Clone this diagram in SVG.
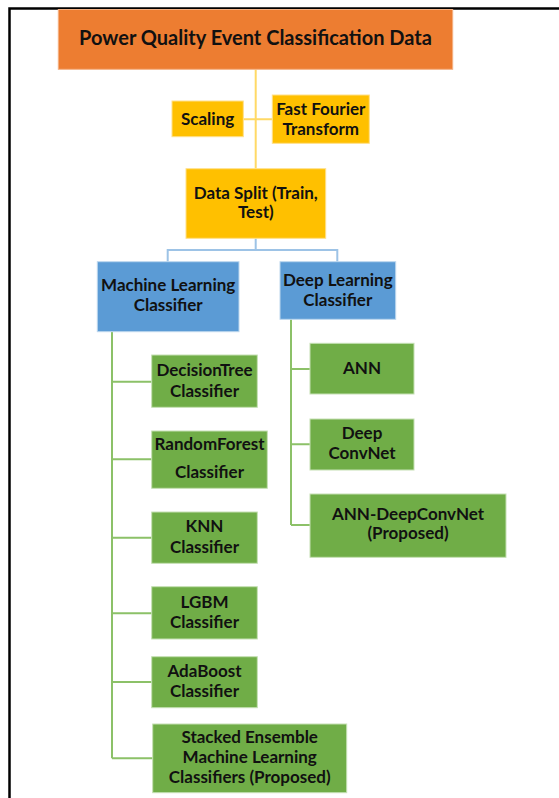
<svg xmlns="http://www.w3.org/2000/svg" width="559" height="798" viewBox="0 0 559 798">
<style>
text{font-family:Lato,"Open Sans","Liberation Sans",sans-serif;font-weight:bold;font-size:17px;fill:#111;text-anchor:middle}
.t{font-size:20px}
.o{fill:#ED7D31;stroke:#F4B183;stroke-width:1}
.y{fill:#FFC000;stroke:#FFE08A;stroke-width:1}
.b{fill:#5B9BD5;stroke:#BDD7EE;stroke-width:1}
.g{fill:#70AD47;stroke:#C5E0B4;stroke-width:1}
.cy{stroke:#FFD966;stroke-width:2;fill:none}
.cb{stroke:#9DC3E6;stroke-width:2;fill:none}
.cg{stroke:#8CC168;stroke-width:2;fill:none}
</style>
<rect x="0" y="0" width="559" height="798" fill="#fff"/>
<rect x="9.5" y="8.5" width="600" height="850" fill="none" stroke="#000" stroke-width="2.5"/>
<g id="connectors">
<path class="cy" d="M255.7 69.5V168.7M243.5 119.3H272.3"/>
<path class="cb" d="M255.7 238.5V250M167.7 261.7V250H337.3V261.7"/>
<path class="cg" d="M112 331.7V758.3M112 381.7H151.7M112 459.3H151.7M112 537.7H151.7M112 613.3H151.7M112 682H151.7M112 758.3H152.7"/>
<path class="cg" d="M291 319.3V525M291 369H310M291 444.3H310M291 525H310"/>
</g>
<g id="n-title"><rect class="o" x="58.3" y="9.5" width="394.4" height="59.8"/><text class="t" x="255.5" y="45">Power Quality Event Classification Data</text></g>
<g id="n-scaling"><rect class="y" x="172" y="101" width="71.3" height="35.7"/><text x="207.6" y="124.5">Scaling</text></g>
<g id="n-fft"><rect class="y" x="272.3" y="95" width="97" height="48.3"/><text x="320.8" y="115">Fast Fourier</text><text x="320.8" y="135">Transform</text></g>
<g id="n-split"><rect class="y" x="186" y="168.7" width="139.7" height="69.6"/><text x="255.8" y="199">Data Split (Train,</text><text x="255.8" y="218">Test)</text></g>
<g id="n-ml"><rect class="b" x="97.3" y="261.7" width="141.7" height="70"/><text x="168.2" y="291">Machine Learning</text><text x="168.2" y="311">Classifier</text></g>
<g id="n-dl"><rect class="b" x="280" y="261.7" width="115.7" height="57.6"/><text x="337.8" y="286">Deep Learning</text><text x="337.8" y="306">Classifier</text></g>
<g id="n-dt"><rect class="g" x="151.7" y="355" width="105.6" height="52.3"/><text x="204.5" y="375.5">DecisionTree</text><text x="204.5" y="396.5">Classifier</text></g>
<g id="n-rf"><rect class="g" x="151.7" y="431" width="115.6" height="57.3"/><text x="209.5" y="450">RandomForest</text><text x="209.5" y="478">Classifier</text></g>
<g id="n-knn"><rect class="g" x="151.7" y="512" width="105.6" height="51.3"/><text x="204.5" y="532">KNN</text><text x="204.5" y="552.5">Classifier</text></g>
<g id="n-lgbm"><rect class="g" x="151.7" y="586.7" width="105.6" height="52.3"/><text x="204.5" y="608">LGBM</text><text x="204.5" y="628">Classifier</text></g>
<g id="n-ada"><rect class="g" x="151.7" y="656.7" width="105.6" height="51"/><text x="204.5" y="676.5">AdaBoost</text><text x="204.5" y="697">Classifier</text></g>
<g id="n-stack"><rect class="g" x="152.7" y="724" width="194" height="68.7"/><text x="249.7" y="742.5">Stacked Ensemble</text><text x="249.7" y="763">Machine Learning</text><text x="249.7" y="783">Classifiers (Proposed)</text></g>
<g id="n-ann"><rect class="g" x="310" y="343.3" width="104" height="50.7"/><text x="362" y="374">ANN</text></g>
<g id="n-dcn"><rect class="g" x="310" y="419" width="104" height="51"/><text x="362" y="439">Deep</text><text x="362" y="459">ConvNet</text></g>
<g id="n-anndcn"><rect class="g" x="310" y="494" width="196" height="63.3"/><text x="408" y="520">ANN-DeepConvNet</text><text x="408" y="539">(Proposed)</text></g>
</svg>
